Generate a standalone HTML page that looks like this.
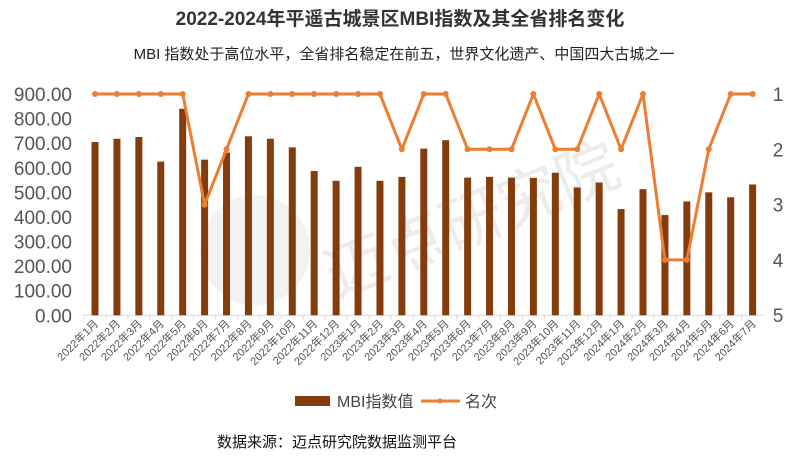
<!DOCTYPE html>
<html><head><meta charset="utf-8"><style>
body{margin:0;background:#fff;}
svg{display:block;font-family:"Liberation Sans","Noto Sans CJK SC",sans-serif;}
</style></head><body>
<svg id="s" width="800" height="457" viewBox="0 0 800 457" xmlns="http://www.w3.org/2000/svg">
<rect width="800" height="457" fill="#fff"/>
<text x="400" y="25" text-anchor="middle" font-size="19" font-weight="bold" fill="#333">2022-2024年平遥古城景区MBI指数及其全省排名变化</text>
<text x="404" y="59" text-anchor="middle" font-size="15" fill="#222">MBI 指数处于高位水平，全省排名稳定在前五，世界文化遗产、中国四大古城之一</text>
<text x="480" y="240" text-anchor="middle" font-size="62" fill="#ececec" transform="rotate(-22 480 240)">迈点研究院</text>
<circle cx="255" cy="250" r="55" fill="#f2f2f2"/>
<g id="g"></g>
<rect x="295" y="396" width="35" height="10" fill="#843c0c"/>
<text x="337" y="407" font-size="16" fill="#444">MBI指数值</text>
<line x1="421" y1="401" x2="460" y2="401" stroke="#ed7d31" stroke-width="3"/>
<circle cx="440" cy="401" r="2.5" fill="#ed7d31"/>
<text x="465" y="407" font-size="16" fill="#444">名次</text>
<text x="217" y="447" font-size="15" fill="#111">数据来源：迈点研究院数据监测平台</text>
</svg>
<script>
var v=[705,718,725,625,840,633,662,728,718,683,587,547,604,547,563,678,712,560,563,560,559,580,520,540,432,513,408,463,500,480,532];
var r=[1,1,1,1,1,3,2,1,1,1,1,1,1,1,2,1,1,2,2,2,1,2,2,1,2,1,4,4,2,1,1];
var y0=315.3,k=(315.3-94)/900,x0=95,dx=21.92,h='';
for(var i=0;i<=9;i++){var y=y0-i*100*k;h+='<text x="72" y="'+(y+7)+'" text-anchor="end" font-size="19" fill="#555">'+(i*100)+'.00</text>';}
for(var i=1;i<=5;i++){var y=94+(i-1)*55.3;h+='<text x="778" y="'+(y+7)+'" text-anchor="middle" font-size="19" fill="#555">'+i+'</text>';}
h+='<line x1="84" y1="'+y0+'" x2="764" y2="'+y0+'" stroke="#d9d9d9" stroke-width="1"/>';
var pts=[];
for(var i=0;i<31;i++){
 var x=x0+i*dx;
 h+='<line x1="'+(x-dx/2)+'" y1="'+y0+'" x2="'+(x-dx/2)+'" y2="'+(y0+4)+'" stroke="#d9d9d9"/>';
 var bh=v[i]*k;h+='<rect x="'+(x-3.5)+'" y="'+(y0-bh)+'" width="7" height="'+bh+'" fill="#843c0c"/>';
 pts.push(x+','+(94+(r[i]-1)*55.3));
 var yr=i<12?2022:(i<24?2023:2024),m=i%12+1;
 h+='<text transform="translate('+(x+4)+','+(y0+9)+') rotate(-45)" text-anchor="end" font-size="11" fill="#555">'+yr+'年'+m+'月</text>';
}
h+='<polyline points="'+pts.join(' ')+'" fill="none" stroke="#ed7d31" stroke-width="3" stroke-linejoin="round"/>';
pts.forEach(function(p){var a=p.split(',');h+='<circle cx="'+a[0]+'" cy="'+a[1]+'" r="3" fill="#ed7d31"/>';});
document.getElementById('g').innerHTML=h;
</script>
</body></html>
